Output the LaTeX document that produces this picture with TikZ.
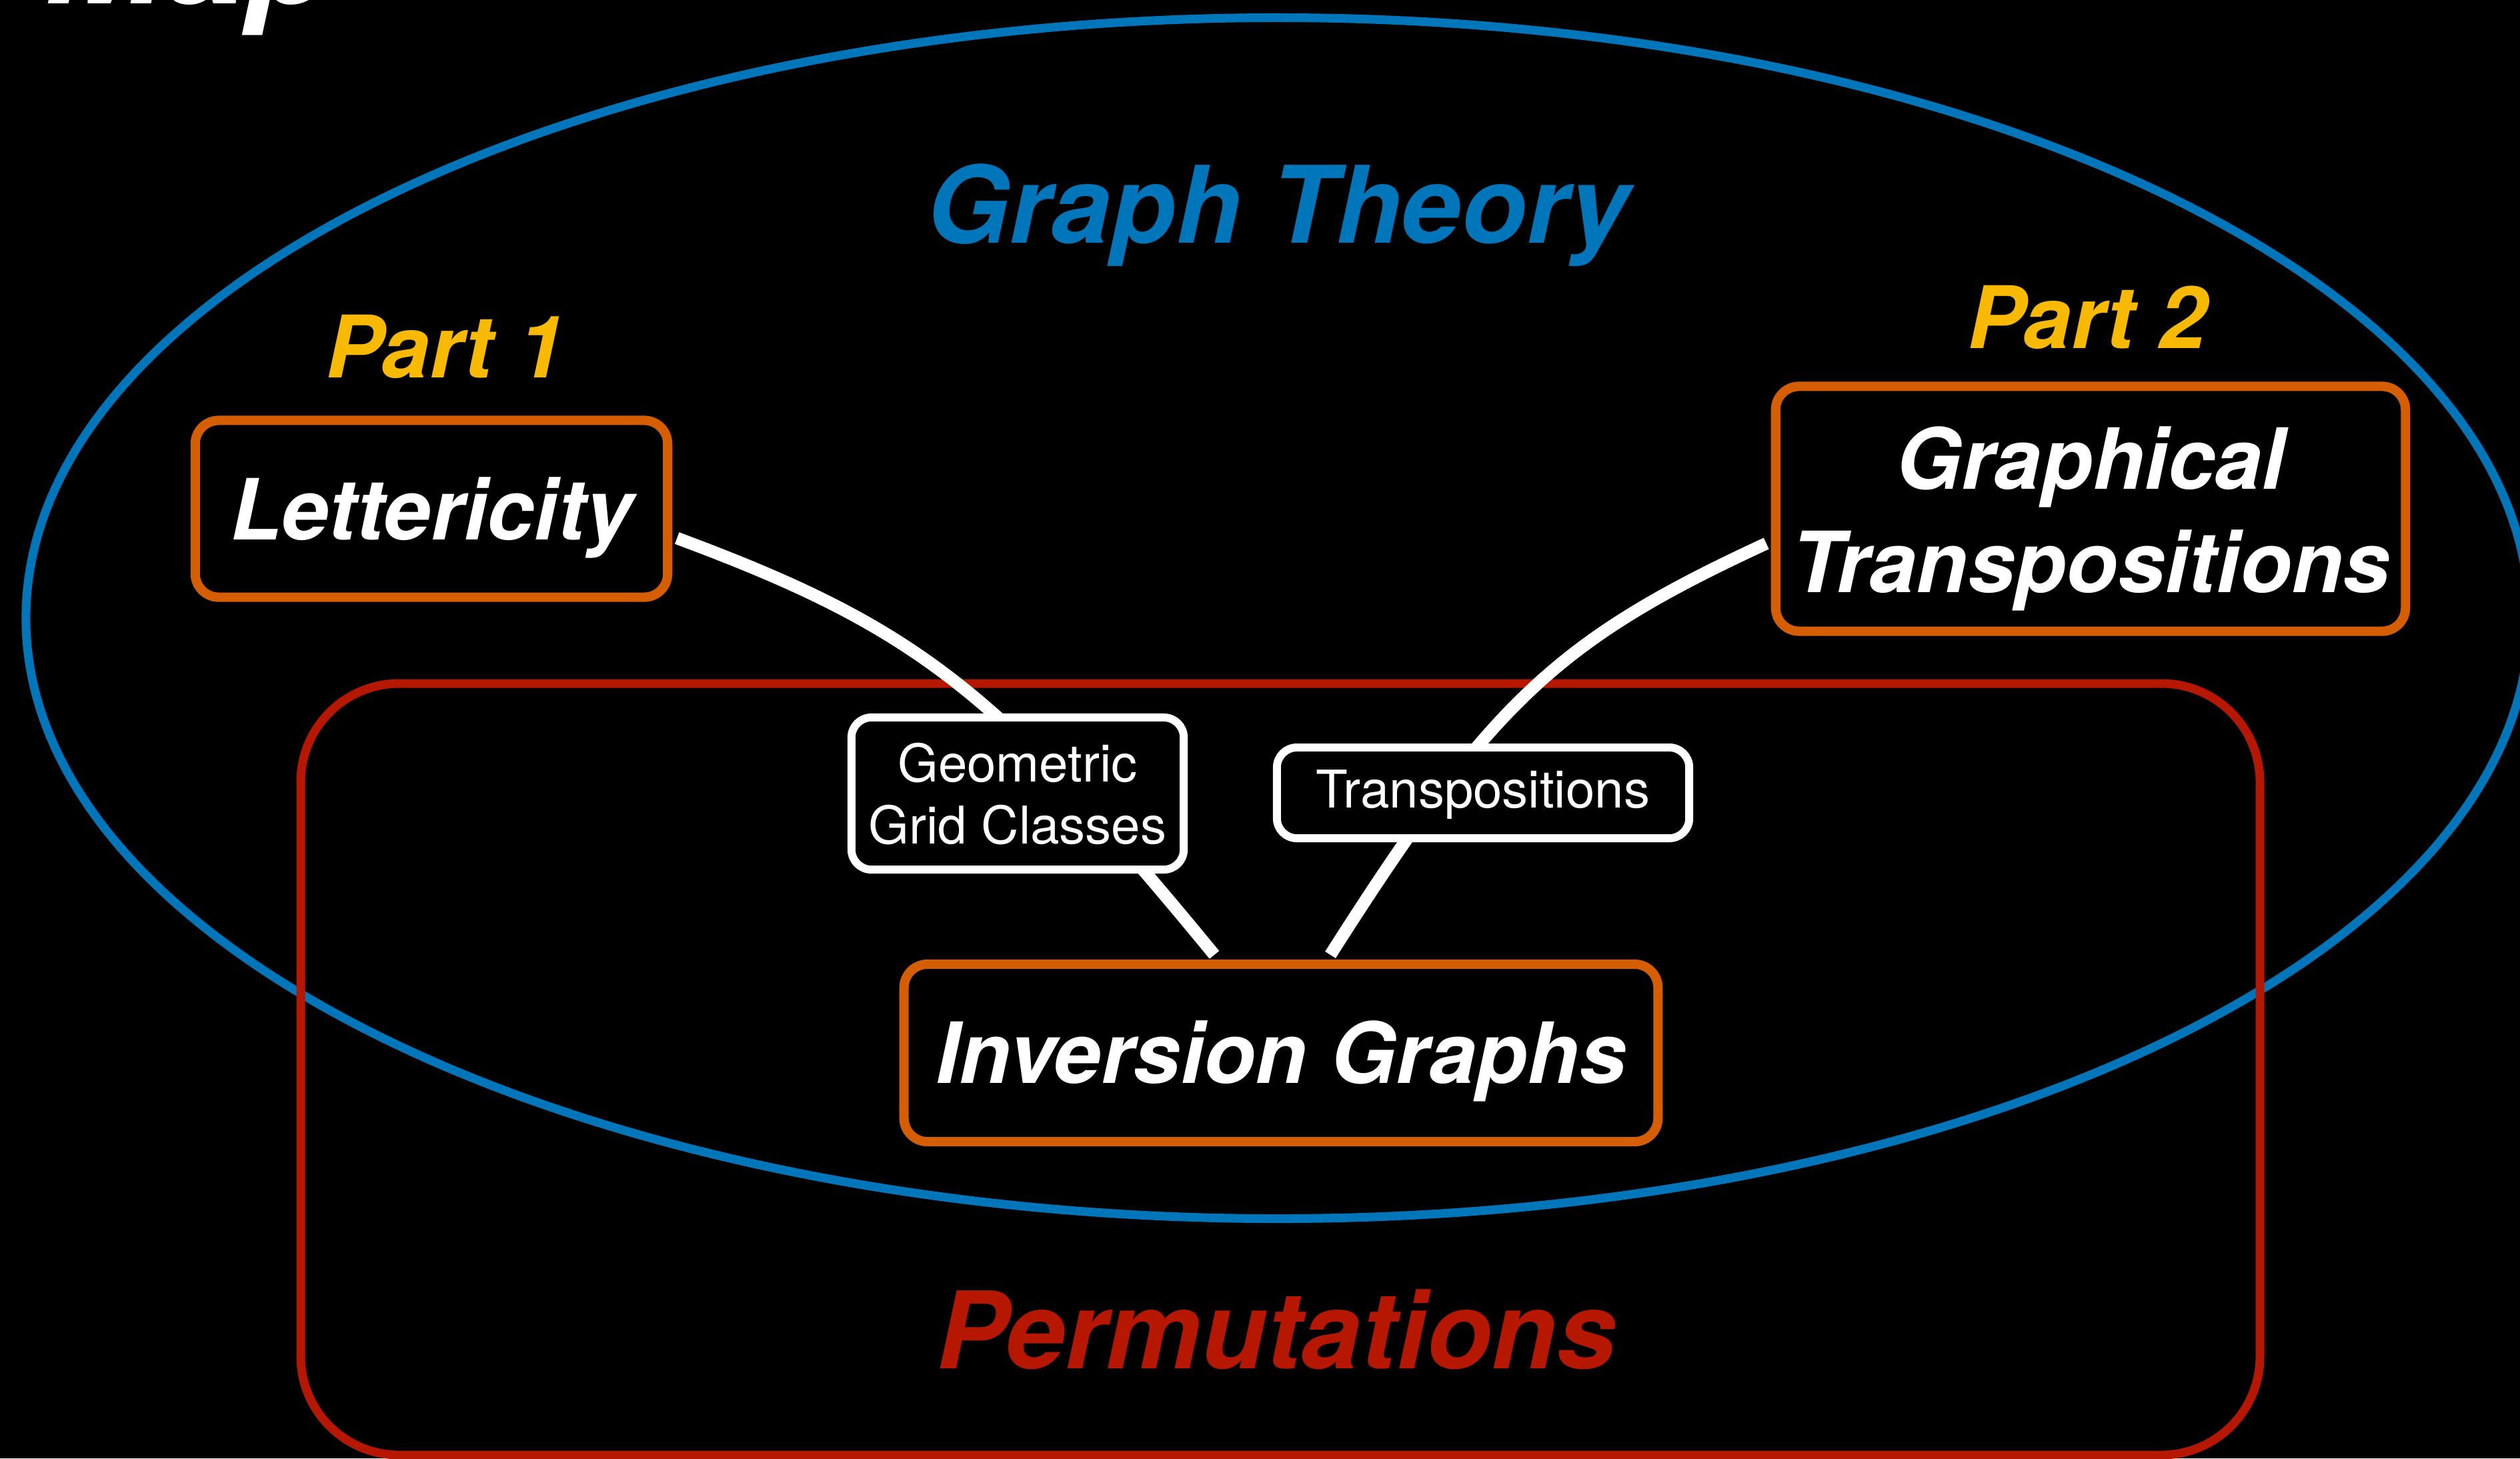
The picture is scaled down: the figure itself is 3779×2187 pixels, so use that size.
\documentclass[tikz,border=0pt]{standalone}
\usepackage{fontspec}
\setmainfont{TeX Gyre Heros}
\usetikzlibrary{calc}
\definecolor{gtblue}{RGB}{0,118,186}
\definecolor{boxorange}{RGB}{213,94,0}
\definecolor{permred}{RGB}{181,23,0}
\definecolor{partyellow}{RGB}{248,186,0}
\tikzset{
  mainbox/.style={draw=boxorange, line width=4pt, rounded corners=10pt, fill=black, text=white,
    font=\fontsize{36}{44.1}\selectfont\bfseries\itshape, align=center, inner sep=0pt, text depth=0pt},
  lab/.style={draw=white, line width=3.4pt, rounded corners=8.5pt, fill=black, text=white,
    font=\fontsize{22.2}{26.5}\selectfont, align=center, inner sep=0pt, text depth=0pt},
  conn/.style={draw=white, line width=5.3pt},
  title/.style={font=\fontsize{45.6}{50}\selectfont\bfseries\itshape, inner sep=0pt, anchor=base},
  parttitle/.style={font=\fontsize{36.8}{40}\selectfont\bfseries\itshape, text=partyellow, inner sep=0pt, anchor=base}
}
\begin{document}
\begin{tikzpicture}[x=0.01cm, y=-0.01cm]
  \useasboundingbox (0,0) rectangle (3779,2187);
  \fill[black] (0,0) rectangle (3779,2187);

  % title (cut off at top, as in the reference)
  \node[font=\fontsize{62}{68}\selectfont\bfseries\itshape, text=white, inner sep=0pt, anchor=base west] (map) at (66,5) {Map};

  % Graph Theory ellipse
  \draw[gtblue, line width=3.7pt] (1916,927) ellipse [x radius=18.76cm, y radius=9cm];
  % Permutations rectangle
  \draw[permred, line width=3.7pt, rounded corners=42pt] (451,1025) rectangle (3389,2182);

  \node[title, text=gtblue] (gt) at (1916,364) {Graph Theory};
  \node[title, text=permred] (perm) at (1914,2052) {Permutations};
  \node[parttitle] (p1) at (668,566) {Part 1};
  \node[parttitle] (p2) at (3130,522) {Part 2};

  % main boxes
  \node[mainbox, text height=26.2pt, minimum width=7.08cm, minimum height=2.65cm] (let) at (647,763) {Lettericity};
  \node[mainbox, text height=71.4pt, minimum width=9.44cm, minimum height=3.67cm] (gtr) at (3135,763) {Graphical\\Transpositions};
  \node[mainbox, text height=25.6pt, minimum width=11.3cm, minimum height=2.66cm] (inv) at (1921,1579) {Inversion Graphs};

  % connectors
  \draw[conn] ($(let.east)+(7,44)$) .. controls (1373,940) and (1495,1035) .. ($(inv.north)+(-100,-7)$);
  \draw[conn] ($(gtr.west)+(-7,52)$) .. controls (2335,960) and (2236,1053) .. ($(inv.north)+(74,-7)$);

  % connector labels
  \node[lab, text height=42.8pt, minimum width=4.98cm, minimum height=2.28cm] (ggc) at (1526,1190) {Geometric\\Grid Classes};
  \node[lab, text height=12.5pt, minimum width=6.18cm, minimum height=1.36cm] (tr) at (2224,1189) {Transpositions};
\end{tikzpicture}
\end{document}
